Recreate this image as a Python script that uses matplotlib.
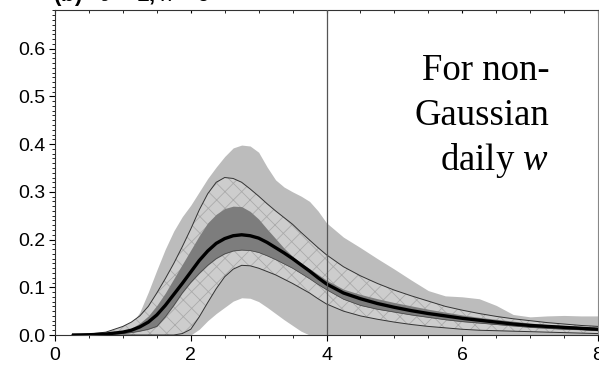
import numpy as np
import matplotlib
matplotlib.use('Agg')
import matplotlib.pyplot as plt
from matplotlib.ticker import MultipleLocator

plt.rcParams['font.family'] = ['Liberation Sans', 'DejaVu Sans']
plt.rcParams['mathtext.fontset'] = 'custom'
plt.rcParams['mathtext.it'] = 'Liberation Serif:italic'
plt.rcParams['mathtext.rm'] = 'Liberation Serif'
plt.rcParams['hatch.linewidth'] = 0.6

# ── Data ──────────────────────────────────────────────────────────────────────
x = [0.25, 0.5, 0.75, 1.0, 1.125, 1.25, 1.375, 1.5, 1.625, 1.75, 1.875,
     2.0, 2.125, 2.25, 2.375, 2.5, 2.625, 2.75, 2.875, 3.0, 3.125, 3.25,
     3.375, 3.5, 3.625, 3.75, 3.875, 4.0, 4.25, 4.5, 4.75, 5.0, 5.25, 5.5,
     5.75, 6.0, 6.25, 6.5, 6.75, 7.0, 7.25, 7.5, 7.75, 8.0]

mean = [0.0, 0.0005, 0.002, 0.006, 0.010, 0.017, 0.027, 0.042, 0.062, 0.085,
        0.108, 0.132, 0.156, 0.176, 0.192, 0.202, 0.208, 0.210, 0.208, 0.203,
        0.194, 0.183, 0.172, 0.160, 0.147, 0.134, 0.120, 0.107, 0.088, 0.076,
        0.066, 0.058, 0.051, 0.045, 0.040, 0.035, 0.031, 0.027, 0.023, 0.020,
        0.018, 0.016, 0.014, 0.012]

dark_hi = [0.0, 0.001, 0.003, 0.008, 0.014, 0.025, 0.040, 0.062, 0.088, 0.118,
           0.148, 0.178, 0.208, 0.235, 0.253, 0.265, 0.270, 0.269, 0.259, 0.243,
           0.222, 0.202, 0.182, 0.165, 0.151, 0.139, 0.127, 0.115, 0.096, 0.085,
           0.076, 0.068, 0.061, 0.054, 0.048, 0.042, 0.037, 0.033, 0.029, 0.025,
           0.022, 0.020, 0.018, 0.016]

dark_lo = [0.0, 0.0, 0.001, 0.003, 0.005, 0.008, 0.012, 0.018, 0.038, 0.062,
           0.088, 0.110, 0.129, 0.146, 0.160, 0.170, 0.176, 0.178, 0.177, 0.173,
           0.166, 0.158, 0.149, 0.140, 0.129, 0.118, 0.106, 0.095, 0.075, 0.062,
           0.054, 0.048, 0.042, 0.037, 0.032, 0.028, 0.025, 0.022, 0.019, 0.016,
           0.014, 0.012, 0.011, 0.009]

hatch_hi = [0.0, 0.002, 0.006, 0.018, 0.027, 0.040, 0.060, 0.088, 0.118, 0.150,
            0.185, 0.222, 0.262, 0.296, 0.320, 0.330, 0.328, 0.320, 0.306, 0.291,
            0.275, 0.260, 0.246, 0.232, 0.215, 0.199, 0.183, 0.168, 0.143, 0.124,
            0.108, 0.094, 0.082, 0.071, 0.060, 0.052, 0.045, 0.039, 0.034, 0.030,
            0.026, 0.023, 0.020, 0.018]

hatch_lo = [0.0, 0.0, 0.0, 0.0, 0.0, 0.0, 0.0, 0.0, 0.0, 0.0,
            0.003, 0.012, 0.038, 0.068, 0.097, 0.122, 0.138, 0.146, 0.145, 0.140,
            0.133, 0.126, 0.117, 0.108, 0.098, 0.088, 0.076, 0.065, 0.050, 0.040,
            0.033, 0.027, 0.022, 0.018, 0.015, 0.012, 0.010, 0.009, 0.008, 0.007,
            0.006, 0.005, 0.004, 0.003]

gray_hi = [0.0, 0.0, 0.002, 0.010, 0.022, 0.048, 0.090, 0.136, 0.180, 0.218,
           0.248, 0.272, 0.300, 0.328, 0.352, 0.374, 0.392, 0.398, 0.396, 0.383,
           0.352, 0.325, 0.310, 0.300, 0.291, 0.280, 0.260, 0.235, 0.205, 0.183,
           0.160, 0.138, 0.115, 0.093, 0.082, 0.080, 0.076, 0.062, 0.043, 0.038,
           0.040, 0.041, 0.040, 0.040]

gray_lo = [0.0, 0.0, 0.0, 0.0, 0.0, 0.0, 0.0, 0.0, 0.0, 0.0,
           0.0, 0.0, 0.012, 0.030, 0.045, 0.058, 0.071, 0.078, 0.077, 0.070,
           0.058, 0.045, 0.032, 0.020, 0.008, 0.0, 0.0, 0.0, 0.0, 0.0,
           0.0, 0.0, 0.0, 0.0, 0.0, 0.0, 0.0, 0.0, 0.0, 0.0,
           0.0, 0.0, 0.0, 0.0]

# ── Plot ──────────────────────────────────────────────────────────────────────
fig = plt.figure(figsize=(5.99, 3.66), dpi=100)
ax = fig.add_axes([55/599, 31/366, 543/599, 325/366])

ax.fill_between(x, gray_lo, gray_hi, color='#bcbcbc', lw=0, zorder=1)
ax.fill_between(x, hatch_lo, hatch_hi, facecolor='#cdcdcd', edgecolor='#ababab',
                hatch='xx', lw=0, zorder=2)
ax.plot(x, hatch_hi, color='#333333', lw=0.7, zorder=3)
ax.plot(x, hatch_lo, color='#333333', lw=0.7, zorder=3)
ax.fill_between(x, dark_lo, dark_hi, color='#7d7d7d', lw=0, zorder=4)
ax.plot(x, dark_lo, color='#444444', lw=0.5, zorder=4)
ax.plot(x, mean, color='black', lw=2.4, zorder=5,
        solid_capstyle='butt', solid_joinstyle='round')
ax.axvline(4, color='#555555', lw=0.9, zorder=6)

ax.set_xlim(0, 8)
ax.set_ylim(0, 0.681)
ax.xaxis.set_major_locator(MultipleLocator(2))
ax.xaxis.set_minor_locator(MultipleLocator(0.5))
ax.yaxis.set_major_locator(MultipleLocator(0.1))
ax.yaxis.set_minor_locator(MultipleLocator(0.01))
ax.yaxis.set_major_formatter(plt.FormatStrFormatter('%.1f'))
ax.tick_params(axis='both', which='major', direction='out', length=4,
               width=0.8, labelsize=14, pad=3)
ax.tick_params(axis='both', which='minor', direction='out', length=2,
               width=0.6)
ax.tick_params(axis='x', top=True, which='both')
ax.tick_params(axis='x', which='major', pad=5)
for s in ax.spines.values():
    s.set_linewidth(0.8)
    s.set_color('#333333')
ax.spines['right'].set_color('#888888')

# top ticks point inward
for t in ax.xaxis.get_major_ticks() + ax.xaxis.get_minor_ticks():
    t.tick2line.set_marker(3)
    t.tick2line.set_markersize(2)

ax.text(7.28, 0.535, 'For non-', ha='right', va='baseline', fontsize=26.5,
        family='Liberation Serif')
ax.text(7.28, 0.44, 'Gaussian', ha='right', va='baseline', fontsize=26.5,
        family='Liberation Serif')
ax.text(7.28, 0.346, r'daily $\mathit{w}$', ha='right', va='baseline',
        fontsize=26.5, family='Liberation Serif')

fig.text(53/599, 1 - 1/366, r'(b)   $\sigma$ = 1, $\lambda$ = 6', ha='left',
         va='baseline', fontsize=16, fontweight='bold')

fig.savefig('out.png', dpi=100)
plt.close(fig)
